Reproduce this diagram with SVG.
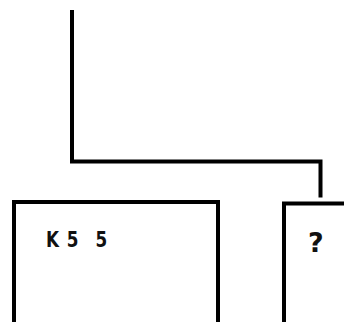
<svg xmlns="http://www.w3.org/2000/svg" width="344" height="322" viewBox="0 0 344 322">
<style>
.ln{fill:none;stroke:#000;stroke-width:4;stroke-linecap:butt;stroke-linejoin:miter}
.lbl{font-family:"DejaVu Sans",sans-serif;font-weight:bold;fill:#111}
</style>
<rect width="344" height="322" fill="#fff"/>
<g id="connectors">
<path class="ln" d="M72 10 V161.5 H320.5 V197.5"/>
</g>
<g id="node-k55">
<path class="ln" d="M14 330 V202 H218 V330"/>
<g transform="translate(46,247) scale(0.8,1)">
<text class="lbl" x="0 26 44 62" y="0" font-size="21">K5 5</text>
</g>
</g>
<g id="node-q">
<path class="ln" d="M284 330 V203.5 H350"/>
<text class="lbl" x="308" y="252" font-size="27">?</text>
</g>
</svg>
